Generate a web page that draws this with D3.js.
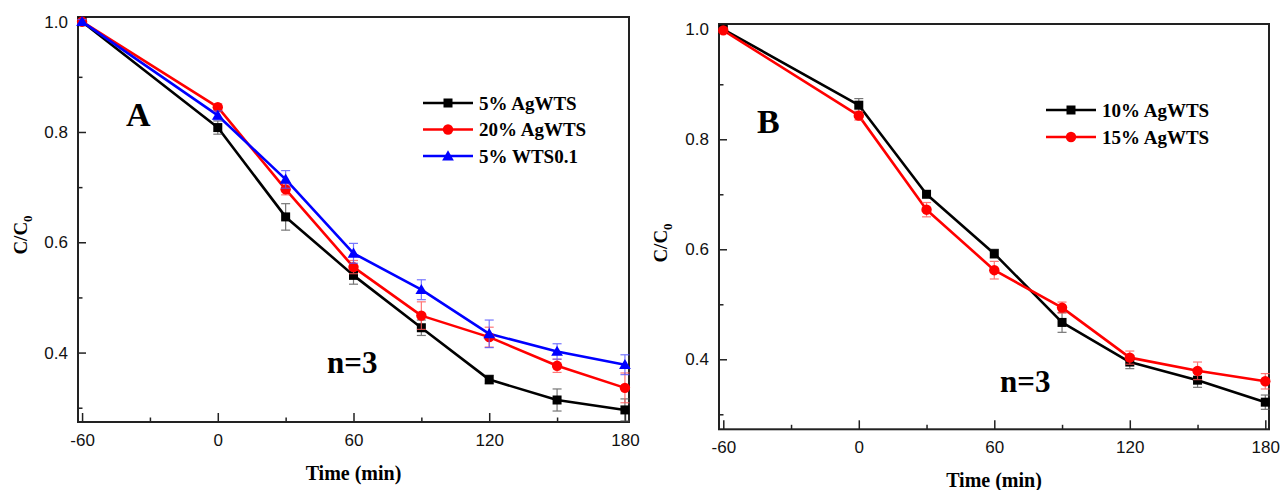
<!DOCTYPE html>
<html>
<head>
<meta charset="utf-8">
<script src="https://cdn.jsdelivr.net/npm/d3@7"></script>
<style>
  body { margin: 0; background: #fff; }
  .tick text { font-family: "Liberation Sans", Arial, sans-serif; font-size: 17px; fill: #111; }
  .tick line { stroke: #222; stroke-width: 1.5; }
  .serif { font-family: "Liberation Serif", "Times New Roman", serif; font-weight: bold; fill: #000; }
</style>
</head>
<body>
<svg id="chart" width="1281" height="490"></svg>
<script>
var svg = d3.select("#chart");

// time points (min)
var times = [-60, 0, 30, 60, 90, 120, 150, 180];
var xMajor = [-60, 0, 60, 120, 180];
var xMinor = [-30, 30, 90, 150];
var yMajor = [0.4, 0.6, 0.8, 1.0];
var yMinor = [0.3, 0.5, 0.7, 0.9];

// panel A
var ag5 = [1.0, 0.808, 0.646, 0.540, 0.445, 0.351, 0.314, 0.296];
var ag5Err = [0.004, 0.012, 0.024, 0.016, 0.014, 0.008, 0.02, 0.02];
var ag20 = [1.0, 0.845, 0.696, 0.555, 0.467, 0.428, 0.376, 0.336];
var ag20Err = [0.004, 0.006, 0.01, 0.012, 0.025, 0.018, 0.012, 0.027];
var wts01 = [1.0, 0.830, 0.714, 0.580, 0.514, 0.434, 0.402, 0.378];
var wts01Err = [0.004, 0.008, 0.016, 0.018, 0.018, 0.025, 0.014, 0.018];

// panel B
var ag10 = [1.0, 0.862, 0.700, 0.592, 0.467, 0.395, 0.362, 0.322];
var ag10Err = [0.004, 0.012, 0.004, 0.008, 0.018, 0.012, 0.013, 0.013];
var ag15 = [0.998, 0.843, 0.672, 0.562, 0.494, 0.403, 0.379, 0.360];
var ag15Err = [0.004, 0.008, 0.013, 0.016, 0.01, 0.012, 0.016, 0.014];

var panelA = {
    x: d3.scaleLinear().domain([-61.8, 181.8]).range([78, 629]),
    y: d3.scaleLinear().domain([0.2741, 1.0085]).range([422, 17]),
    label: "A", labelPos: [126, 126],
    note: [327, 373],
    legend: {x: 423, y: 103, gap: 26.5},
    ylabel: [27, 235],
    series: [
        {name: "5% AgWTS", values: ag5, err: ag5Err, color: "#000", errColor: "#555", marker: "square"},
        {name: "20% AgWTS", values: ag20, err: ag20Err, color: "#f00", errColor: "#f55", marker: "circle"},
        {name: "5% WTS0.1", values: wts01, err: wts01Err, color: "#00f", errColor: "#55f", marker: "triangle"}
    ]
};

var panelB = {
    x: d3.scaleLinear().domain([-61.9, 181.64]).range([719, 1269]),
    y: d3.scaleLinear().domain([0.2727, 1.0096]).range([429.3, 24]),
    label: "B", labelPos: [757, 133],
    note: [1000, 392],
    legend: {x: 1046, y: 110, gap: 27},
    ylabel: [667, 243],
    series: [
        {name: "10% AgWTS", values: ag10, err: ag10Err, color: "#000", errColor: "#555", marker: "square"},
        {name: "15% AgWTS", values: ag15, err: ag15Err, color: "#f00", errColor: "#f55", marker: "circle"}
    ]
};

function drawMarker(g, type, cx, cy, color) {
    if (type == "square") {
        g.append("rect").attr("x", cx - 4.5).attr("y", cy - 4.5)
            .attr("width", 9).attr("height", 9).attr("fill", color);
    } else if (type == "circle") {
        g.append("circle").attr("cx", cx).attr("cy", cy).attr("r", 5.2).attr("fill", color);
    } else {
        g.append("path").attr("transform", "translate(" + cx + "," + (cy + 1) + ")")
            .attr("d", d3.symbol().type(d3.symbolTriangle).size(60)).attr("fill", color);
    }
}

function drawPanel(p) {
    var x = p.x, y = p.y;
    var g = svg.append("g");
    var x0 = x.range()[0], x1 = x.range()[1], y0 = y.range()[0], y1 = y.range()[1];

    // axes, ticks pointing inward
    g.append("g").attr("transform", "translate(0," + y0 + ")")
        .call(d3.axisBottom(x).tickValues(xMajor).tickSize(-9).tickPadding(12)
              .tickFormat(function(d) { return String(d); }))
        .call(function(a) { a.select(".domain").remove(); });
    g.append("g").attr("transform", "translate(0," + y0 + ")")
        .call(d3.axisBottom(x).tickValues(xMinor).tickSize(-4.5).tickFormat(""))
        .call(function(a) { a.select(".domain").remove(); });
    g.append("g").attr("transform", "translate(" + x0 + ",0)")
        .call(d3.axisLeft(y).tickValues(yMajor).tickSize(-8).tickPadding(10).tickFormat(d3.format(".1f")))
        .call(function(a) { a.select(".domain").remove(); });
    g.append("g").attr("transform", "translate(" + x0 + ",0)")
        .call(d3.axisLeft(y).tickValues(yMinor).tickSize(-4.5).tickFormat(""))
        .call(function(a) { a.select(".domain").remove(); });

    g.append("rect").attr("x", x0).attr("y", y1)
        .attr("width", x1 - x0).attr("height", y0 - y1)
        .attr("fill", "none").attr("stroke", "#222").attr("stroke-width", 2);

    var line = d3.line().x(function(d, i) { return x(times[i]); }).y(function(d) { return y(d); });

    p.series.forEach(function(s) {
        g.append("path").datum(s.values)
            .attr("fill", "none").attr("stroke", s.color).attr("stroke-width", 2.6)
            .attr("stroke-linejoin", "round").attr("d", line);
    });

    p.series.forEach(function(s) {
        var eg = g.append("g").attr("stroke", s.errColor).attr("stroke-width", 1.2).attr("opacity", 0.8);
        s.values.forEach(function(v, i) {
            var cx = x(times[i]), top = y(v + s.err[i]), bot = y(v - s.err[i]);
            eg.append("line").attr("x1", cx).attr("x2", cx).attr("y1", top).attr("y2", bot);
            eg.append("line").attr("x1", cx - 4.5).attr("x2", cx + 4.5).attr("y1", top).attr("y2", top);
            eg.append("line").attr("x1", cx - 4.5).attr("x2", cx + 4.5).attr("y1", bot).attr("y2", bot);
        });
        var mg = g.append("g");
        s.values.forEach(function(v, i) {
            drawMarker(mg, s.marker, x(times[i]), y(v), s.color);
        });
    });

    // legend
    p.series.forEach(function(s, i) {
        var ly = p.legend.y + i * p.legend.gap;
        g.append("line").attr("x1", p.legend.x).attr("x2", p.legend.x + 50)
            .attr("y1", ly).attr("y2", ly).attr("stroke", s.color).attr("stroke-width", 2.6);
        drawMarker(g, s.marker, p.legend.x + 25, ly, s.color);
        g.append("text").attr("class", "serif").attr("x", p.legend.x + 56).attr("y", ly + 6.5)
            .style("font-size", "19px").text(s.name);
    });

    g.append("text").attr("class", "serif").attr("x", p.labelPos[0]).attr("y", p.labelPos[1])
        .style("font-size", "34px").text(p.label);
    g.append("text").attr("class", "serif").attr("x", p.note[0]).attr("y", p.note[1])
        .style("font-size", "31px").text("n=3");

    g.append("text").attr("class", "serif")
        .attr("x", (x0 + x1) / 2).attr("y", y0 + 58)
        .attr("text-anchor", "middle").style("font-size", "20px").text("Time (min)");

    var yl = g.append("text").attr("class", "serif")
        .attr("transform", "translate(" + p.ylabel[0] + "," + p.ylabel[1] + ") rotate(-90)")
        .attr("text-anchor", "middle").style("font-size", "19px");
    yl.append("tspan").text("C/C");
    yl.append("tspan").attr("dy", 5).style("font-size", "13px").text("0");
}

drawPanel(panelA);
drawPanel(panelB);
</script>
</body>
</html>
